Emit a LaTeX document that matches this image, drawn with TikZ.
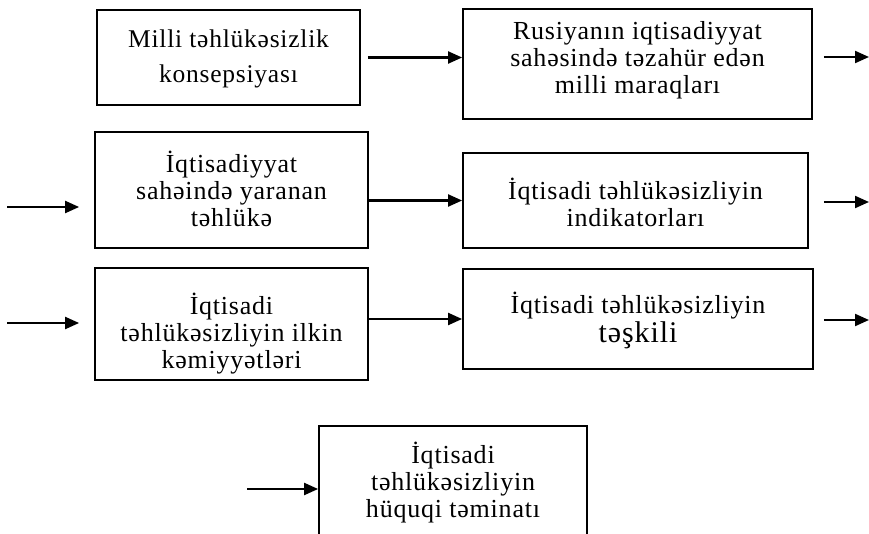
\documentclass[tikz,border=0pt]{standalone}
\usepackage{fontspec}
\setmainfont{Liberation Serif}[LetterSpace=3]
\usetikzlibrary{arrows.meta}
\newcommand\bt[2]{\raisebox{#1pt}[0pt][0pt]{\begin{tabular}{@{}c@{}}#2\end{tabular}}}
\begin{document}
\begin{tikzpicture}[x=1pt,y=-1pt,
  blk/.style={draw, line width=1.8pt, inner sep=0pt, font=\fontsize{26}{27}\selectfont},
  arr/.style={line width=2.1pt, -{Triangle[length=14pt,width=12pt]}}]
\useasboundingbox (0,0) rectangle (869,534);
\node[blk, font=\fontsize{25.5}{35}\selectfont, minimum width=263pt, minimum height=95pt] (b1) at (228.5,57.5)
  {\bt{-7}{Milli təhlükəsizlik\\konsepsiyası}};
\node[blk, minimum width=349pt, minimum height=110pt] (b2) at (637.5,64)
  {\bt{-3}{Rusiyanın iqtisadiyyat\\sahəsində təzahür edən\\milli maraqları}};
\node[blk, minimum width=273pt, minimum height=116pt] (b3) at (231.5,190)
  {\bt{-9}{İqtisadiyyat\\sahəində yaranan\\təhlükə}};
\node[blk, minimum width=345pt, minimum height=95pt] (b4) at (635.5,200.5)
  {\bt{-12}{İqtisadi təhlükəsizliyin\\indikatorları}};
\node[blk, minimum width=273pt, minimum height=112pt] (b5) at (231.5,324)
  {\bt{-17}{İqtisadi\\təhlükəsizliyin ilkin\\kəmiyyətləri}};
\node[blk, minimum width=350pt, minimum height=100pt] (b6) at (638,319)
  {\bt{-9}{İqtisadi təhlükəsizliyin\\{\fontsize{30}{27}\selectfont təşkili}}};
\node[blk, minimum width=268pt, minimum height=119pt] (b7) at (453,485.5)
  {\bt{-5}{İqtisadi\\təhlükəsizliyin\\hüquqi təminatı}};

\coordinate (o2) at (869,57);
\coordinate (i3) at (7,207);
\coordinate (o4) at (869,202);
\coordinate (i5) at (7,323);
\coordinate (o6) at (869,320);
\coordinate (i7) at (247,489);

\draw[arr, shorten <=7pt] (b1.east) -- (b1.east -| b2.west);
\draw[arr, shorten <=11pt] (b2.east |- o2) -- (o2);
\draw[arr, shorten >=15pt] (i3) -- (i3 -| b3.west);
\draw[arr] (b4.west -| b3.east) -- (b4.west);
\draw[arr, shorten <=15pt] (b4.east |- o4) -- (o4);
\draw[arr, shorten >=15pt] (i5) -- (i5 -| b5.west);
\draw[arr] (b6.west -| b5.east) -- (b6.west);
\draw[arr, shorten <=10pt] (b6.east |- o6) -- (o6);
\draw[arr] (i7) -- (i7 -| b7.west);
\end{tikzpicture}
\end{document}
